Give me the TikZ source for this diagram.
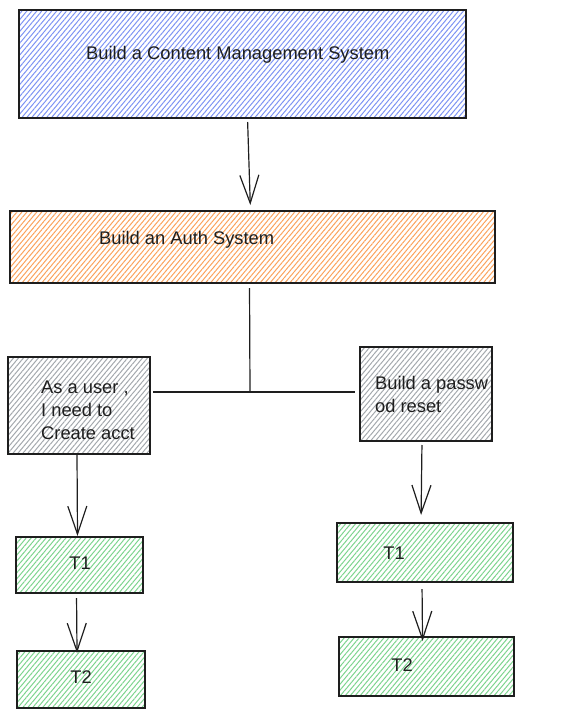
\documentclass[tikz,border=0pt]{standalone}
\usepackage{fontspec}
\setmainfont{Liberation Sans}
\usepackage{tikz}
\usetikzlibrary{arrows.meta,positioning,patterns.meta}
\definecolor{inkdark}{HTML}{1E1E1E}
\definecolor{hatchblue}{HTML}{7D93F3}
\definecolor{hatchorange}{HTML}{FBA25C}
\definecolor{hatchgray}{HTML}{A3A8AD}
\definecolor{hatchgreen}{HTML}{7DD48E}

\begin{document}
\begin{tikzpicture}[x=1pt,y=-1pt,
  box/.style={draw=inkdark,line width=1.2pt,rectangle,inner sep=0pt,outer sep=0pt},
  hatch/.style={pattern={Lines[angle=50,distance=3.8pt,line width=1pt]},pattern color=#1},
  txt/.style={font=\fontsize{18.3}{23}\selectfont,text=inkdark,inner sep=0pt,align=left},
  arrow/.style={-{Straight Barb[length=28pt,width=19pt]},line width=1.2pt,draw=inkdark},
  wire/.style={line width=1.2pt,draw=inkdark},
]
  \useasboundingbox (0,0) rectangle (567,717);

  % epic and feature
  \node[box,hatch=hatchblue,minimum width=447,minimum height=108] (cms) at (242.5,64) {};
  \node[txt,anchor=west] (cmstext) at (86,55) {Build a Content Management System};
  \node[box,hatch=hatchorange,minimum width=485,minimum height=72] (auth) at (252.5,247) {};
  \node[txt,anchor=west] (authtext) at (99,240) {Build an Auth System};

  % stories
  \node[box,hatch=hatchgray,minimum width=142,minimum height=97] (story) at (79,405.5) {};
  \node[txt,anchor=west] (storytext) at (41,410) {As a user ,\\I need to\\Create acct};
  \node[box,hatch=hatchgray,minimum width=132,minimum height=94] (reset) at (426,394) {};
  \node[txt,anchor=west] (resettext) at (375,394) {Build a passw\\od reset};

  % tasks
  \node[box,hatch=hatchgreen,minimum width=127,minimum height=56] (lt1) at (79.5,565) {};
  \node[txt] (lt1text) at (80,563) {T1};
  \node[box,hatch=hatchgreen,minimum width=128,minimum height=57] (lt2) at (81,679.5) {};
  \node[txt] (lt2text) at (81,677) {T2};
  \node[box,hatch=hatchgreen,minimum width=176,minimum height=59] (rt1) at (425,552.5) {};
  \node[txt] (rt1text) at (394,553) {T1};
  \node[box,hatch=hatchgreen,minimum width=175,minimum height=59] (rt2) at (426.5,666.5) {};
  \node[txt] (rt2text) at (402,665) {T2};

  \coordinate (split) at (250,392);

  \draw[arrow,shorten <=4pt,shorten >=6pt] ([xshift=5pt]cms.south) -- ([xshift=-2pt]auth.north);
  \draw[wire,shorten <=5pt] ([xshift=-3pt]auth.south) -- (split);
  \draw[wire,shorten <=3pt,shorten >=5pt] (split -| story.east) -- (split -| reset.west);
  \draw[arrow,shorten >=1pt] ([xshift=-2pt]story.south) -- ([xshift=-2pt]lt1.north);
  \draw[arrow,shorten <=5pt,shorten >=-2pt] ([xshift=-3pt]lt1.south) -- ([xshift=-4pt]lt2.north);
  \draw[arrow,shorten <=4pt,shorten >=8pt] ([xshift=-4pt]reset.south) -- ([xshift=-4pt]rt1.north);
  \draw[arrow,shorten <=7pt,shorten >=-4pt] ([xshift=-3pt]rt1.south) -- ([xshift=-4pt]rt2.north);
\end{tikzpicture}
\end{document}
